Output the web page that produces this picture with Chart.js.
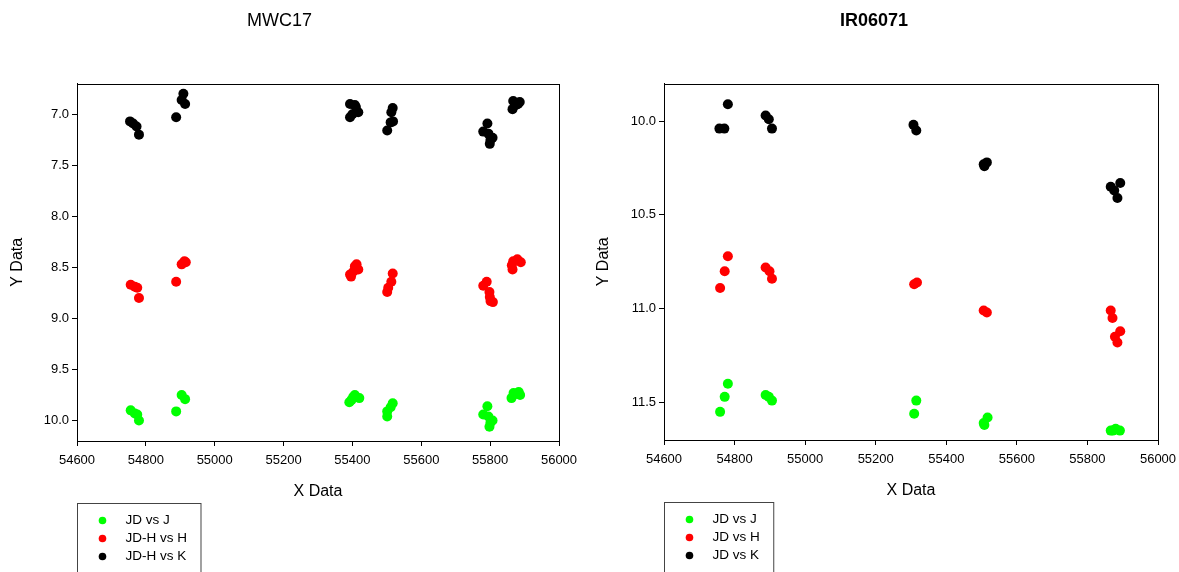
<!DOCTYPE html>
<html>
<head>
<meta charset="utf-8">
<script src="https://cdn.jsdelivr.net/npm/chart.js@4.4.1/dist/chart.umd.min.js"></script>
<style>
  html, body { margin: 0; padding: 0; background: #fff; }
  .row { display: flex; width: 1179px; height: 572px; }
</style>
</head>
<body>
<div class="row">
  <canvas id="mwc17" width="590" height="572"></canvas>
  <canvas id="ir06071" width="589" height="572"></canvas>
</div>
<script>
// MWC17 light curves (JD - 2400000 vs magnitude)
const mwcJ_jd  = [54756, 54768, 54775, 54780, 54888, 54904, 54914, 55391, 55397, 55407, 55420, 55402, 55517, 55511, 55501, 55501, 55792, 55780, 55795, 55807, 55801, 55798, 55862, 55868, 55883, 55887, 55875];
const mwcJ_mag = [9.90, 9.93, 9.94, 10.00, 9.91, 9.75, 9.79, 9.82, 9.80, 9.75, 9.78, 9.77, 9.83, 9.87, 9.91, 9.96, 9.86, 9.94, 9.96, 10.00, 10.02, 10.06, 9.78, 9.73, 9.72, 9.75, 9.74];
const mwcH_jd  = [54756, 54768, 54775, 54780, 54888, 54904, 54912, 54916, 55393, 55396, 55407, 55417, 55403, 55412, 55517, 55513, 55504, 55501, 55790, 55780, 55798, 55799, 55801, 55808, 55865, 55879, 55867, 55889, 55863];
const mwcH_mag = [8.67, 8.69, 8.70, 8.80, 8.64, 8.47, 8.44, 8.45, 8.57, 8.59, 8.49, 8.52, 8.54, 8.47, 8.56, 8.64, 8.70, 8.74, 8.64, 8.68, 8.74, 8.79, 8.83, 8.84, 8.52, 8.42, 8.44, 8.45, 8.48];
const mwcK_jd  = [54754, 54763, 54773, 54780, 54888, 54904, 54909, 54914, 55393, 55407, 55393, 55400, 55417, 55410, 55517, 55513, 55511, 55518, 55501, 55792, 55780, 55795, 55807, 55799, 55801, 55867, 55881, 55865, 55886, 55875];
const mwcK_mag = [7.07, 7.09, 7.12, 7.20, 7.03, 6.86, 6.80, 6.90, 6.90, 6.91, 7.03, 7.00, 6.98, 6.93, 6.94, 6.98, 7.08, 7.07, 7.16, 7.09, 7.17, 7.19, 7.23, 7.29, 7.25, 6.87, 6.90, 6.95, 6.88, 6.91];

// IR06071
const irJ_jd  = [54759, 54772, 54781, 54888, 54897, 54906, 55309, 55315, 55506, 55508, 55517, 55866, 55880, 55892, 55872];
const irJ_mag = [11.55, 11.47, 11.40, 11.46, 11.47, 11.49, 11.56, 11.49, 11.61, 11.62, 11.58, 11.65, 11.64, 11.65, 11.65];
const irH_jd  = [54759, 54772, 54781, 54888, 54899, 54906, 55309, 55317, 55506, 55515, 55866, 55871, 55893, 55878, 55885];
const irH_mag = [10.89, 10.80, 10.72, 10.78, 10.80, 10.84, 10.87, 10.86, 11.01, 11.02, 11.01, 11.05, 11.12, 11.15, 11.18];
const irK_jd  = [54757, 54771, 54781, 54888, 54897, 54906, 55307, 55315, 55506, 55515, 55508, 55893, 55866, 55876, 55885];
const irK_mag = [10.04, 10.04, 9.91, 9.97, 9.99, 10.04, 10.02, 10.05, 10.23, 10.22, 10.24, 10.33, 10.35, 10.37, 10.41];

const xTicks = [54600, 54800, 55000, 55200, 55400, 55600, 55800, 56000];
const mwcYTicks = [7.0, 7.5, 8.0, 8.5, 9.0, 9.5, 10.0];
const irYTicks = [10.0, 10.5, 11.0, 11.5];

const FONT = '"Liberation Sans", Arial, sans-serif';

function zip(xs, ys) {
  return xs.map((x, i) => ({ x: x, y: ys[i] }));
}

// box around the plotting area
const frameBox = {
  id: 'frameBox',
  afterDatasetsDraw(chart) {
    const { ctx, chartArea: a } = chart;
    ctx.save();
    ctx.strokeStyle = '#000';
    ctx.lineWidth = 1;
    const l = Math.round(a.left) + 0.5, t = Math.round(a.top) + 0.5;
    const r = Math.round(a.right) + 0.5, b = Math.round(a.bottom) + 0.5;
    ctx.strokeRect(l, t, r - l, b - t);
    ctx.restore();
  }
};

// boxed legend under the x axis, one entry per row
const seriesKey = {
  id: 'seriesKey',
  afterDraw(chart) {
    const { ctx, chartArea } = chart;
    ctx.save();
    ctx.font = '13.5px ' + FONT;
    const widest = Math.max(...chart.data.datasets.map(d => ctx.measureText(d.label).width));
    const x0 = Math.round(chartArea.left) + 0.5;
    const y0 = Math.round(chartArea.bottom) + 62.5;
    ctx.strokeStyle = '#444';
    ctx.lineWidth = 1;
    ctx.strokeRect(x0, y0, 48 + widest + 14, 90);
    chart.data.datasets.forEach((d, i) => {
      const cy = y0 + 17 + i * 18;
      ctx.fillStyle = d.backgroundColor;
      ctx.beginPath();
      ctx.arc(x0 + 25, cy, 3.8, 0, Math.PI * 2);
      ctx.fill();
      ctx.fillStyle = '#000';
      ctx.textBaseline = 'middle';
      ctx.fillText(d.label, x0 + 48, cy);
    });
    ctx.restore();
  }
};

function makePanel(id, opts) {
  const datasets = opts.series.map(s => ({
    label: s.label,
    data: s.data,
    backgroundColor: s.color,
    borderColor: s.color,
    pointRadius: 5,
    pointHoverRadius: 5,
    borderWidth: 0
  }));

  return new Chart(document.getElementById(id), {
    type: 'scatter',
    data: { datasets: datasets },
    options: {
      responsive: false,
      animation: false,
      layout: { padding: { left: 0, right: opts.padRight, top: 0, bottom: opts.padBottom } },
      plugins: {
        legend: { display: false },
        tooltip: { enabled: false },
        title: {
          display: true,
          text: opts.title,
          color: '#000',
          font: { family: FONT, size: 18, weight: opts.boldTitle ? 'bold' : 'normal' },
          padding: { top: 10, bottom: 52 }
        }
      },
      scales: {
        x: {
          type: 'linear',
          min: xTicks[0],
          max: xTicks[xTicks.length - 1],
          afterBuildTicks: s => { s.ticks = xTicks.map(v => ({ value: v })); },
          // fixed height, and let the end labels overhang without shrinking the plot
          afterFit: s => { s.height = 60; s.paddingLeft = 0; s.paddingRight = 0; },
          grid: { drawOnChartArea: false, drawTicks: true, tickLength: 5, color: '#000' },
          border: { color: '#000' },
          ticks: { color: '#000', font: { family: FONT, size: 13 }, padding: 7, maxRotation: 0, callback: v => String(v) },
          title: { display: true, text: 'X Data', color: '#000', font: { family: FONT, size: 16 }, padding: { top: 0, bottom: 0 } }
        },
        y: {
          type: 'linear',
          reverse: true,
          min: opts.yMin,
          max: opts.yMax,
          afterBuildTicks: s => { s.ticks = opts.yTicks.map(v => ({ value: v })); },
          afterFit: s => { s.width = opts.yWidth; s.paddingTop = 0; s.paddingBottom = 0; },
          grid: { drawOnChartArea: false, drawTicks: true, tickLength: 5, color: '#000' },
          border: { color: '#000' },
          ticks: { color: '#000', font: { family: FONT, size: 13 }, padding: 3, callback: v => v.toFixed(1) },
          title: { display: true, text: 'Y Data', color: '#000', font: { family: FONT, size: 16 }, padding: { top: opts.yTitlePad, bottom: 0 } }
        }
      }
    },
    plugins: [frameBox, seriesKey]
  });
}

makePanel('mwc17', {
  title: 'MWC17',
  boldTitle: false,
  yMin: 6.7,
  yMax: 10.2,
  yTicks: mwcYTicks,
  yWidth: 77,
  yTitlePad: 8,
  padRight: 31,
  padBottom: 71,
  series: [
    { label: 'JD vs J', color: '#00ff00', data: zip(mwcJ_jd, mwcJ_mag) },
    { label: 'JD-H vs H', color: '#ff0000', data: zip(mwcH_jd, mwcH_mag) },
    { label: 'JD-H vs K', color: '#000000', data: zip(mwcK_jd, mwcK_mag) }
  ]
});

makePanel('ir06071', {
  title: 'IR06071',
  boldTitle: true,
  yMin: 9.8,
  yMax: 11.7,
  yTicks: irYTicks,
  yWidth: 74,
  yTitlePad: 4,
  padRight: 21,
  padBottom: 72,
  series: [
    { label: 'JD vs J', color: '#00ff00', data: zip(irJ_jd, irJ_mag) },
    { label: 'JD vs H', color: '#ff0000', data: zip(irH_jd, irH_mag) },
    { label: 'JD vs K', color: '#000000', data: zip(irK_jd, irK_mag) }
  ]
});
</script>
</body>
</html>
